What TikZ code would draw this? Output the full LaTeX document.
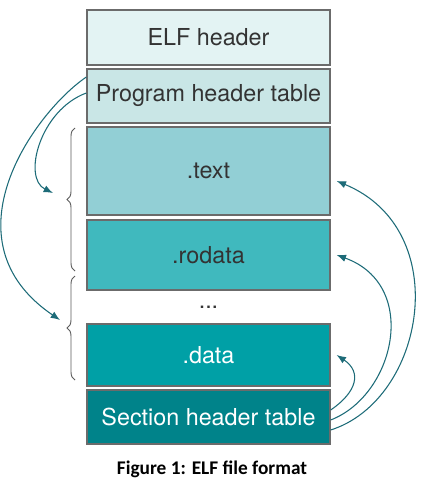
\documentclass[tikz,border=0pt]{standalone}
\usepackage{fontspec}
\setmainfont{TeX Gyre Heros}
\newfontfamily\capfont{Carlito}
\usetikzlibrary{calc,arrows.meta,decorations.pathreplacing}

\definecolor{elfc}{HTML}{E3F3F3}
\definecolor{phtc}{HTML}{C9E6E6}
\definecolor{textc}{HTML}{92CFD5}
\definecolor{rodatac}{HTML}{40B9BE}
\definecolor{datac}{HTML}{00A0A6}
\definecolor{shtc}{HTML}{00838A}
\definecolor{arrc}{HTML}{1D6B78}
\definecolor{edgec}{HTML}{6B6B6B}
\definecolor{darktxt}{HTML}{333333}

\tikzset{
  part/.style={draw=edgec,line width=1pt,minimum width=182.25pt,inner sep=0pt,
    font=\fontsize{17.5}{20}\selectfont,text=darktxt},
  link/.style={draw=arrc,line width=0.8pt,-{Latex[length=7pt,width=5.5pt]}},
  brc/.style={draw=darktxt!80,line width=0.7pt,decorate,decoration={brace,amplitude=6pt}}
}

\begin{document}
\begin{tikzpicture}[x=0.75pt,y=-0.75pt]
\useasboundingbox (0,0) rectangle (424,492);

\node[part,fill=elfc,minimum height=41.25pt] (elf) at (208.5,37.5) {ELF header};
\node[part,fill=phtc,minimum height=40.5pt] (pht) at (208.5,96) {Program header table};
\node[part,fill=textc,minimum height=66pt] (text) at (208.5,171) {.text};
\node[part,fill=rodatac,minimum height=52.5pt] (rodata) at (208.5,255) {.rodata};
\node[font=\fontsize{17.5}{20}\selectfont,text=darktxt] (dots) at (208.5,307) {...};
\node[part,fill=datac,minimum height=46.5pt,text=white] (data) at (208.5,355) {.data};
\node[part,fill=shtc,minimum height=40.5pt,text=white] (sht) at (208.5,417) {Section header table};
\node[font=\capfont\bfseries\fontsize{14.5}{17}\selectfont] (cap) at (212,469) {Figure 1: ELF file format};

\coordinate (segA) at (53,193);
\coordinate (segB) at (60,320);

\draw[brc] (75,271) -- (75,128);
\draw[brc] (75,380) -- (75,276);

\draw[link] ([yshift=2.25pt]pht.west) .. controls (40,110) and (22,178) .. (segA);
\draw[link] ([yshift=14.25pt]pht.west) .. controls (35,112) and (-58,240) .. (segB);

\draw[link] ([yshift=5.25pt]sht.east) .. controls (357,392) and (362,372) .. ([xshift=4.5pt]data.east);
\draw[link] ([yshift=-2.25pt]sht.east) .. controls (395,395) and (420,285) .. ([xshift=4.5pt]rodata.east);
\draw[link] ([yshift=-9.75pt]sht.east) .. controls (425,400) and (455,230) .. ([xshift=4.5pt,yshift=-7.5pt]text.east);

\end{tikzpicture}
\end{document}
